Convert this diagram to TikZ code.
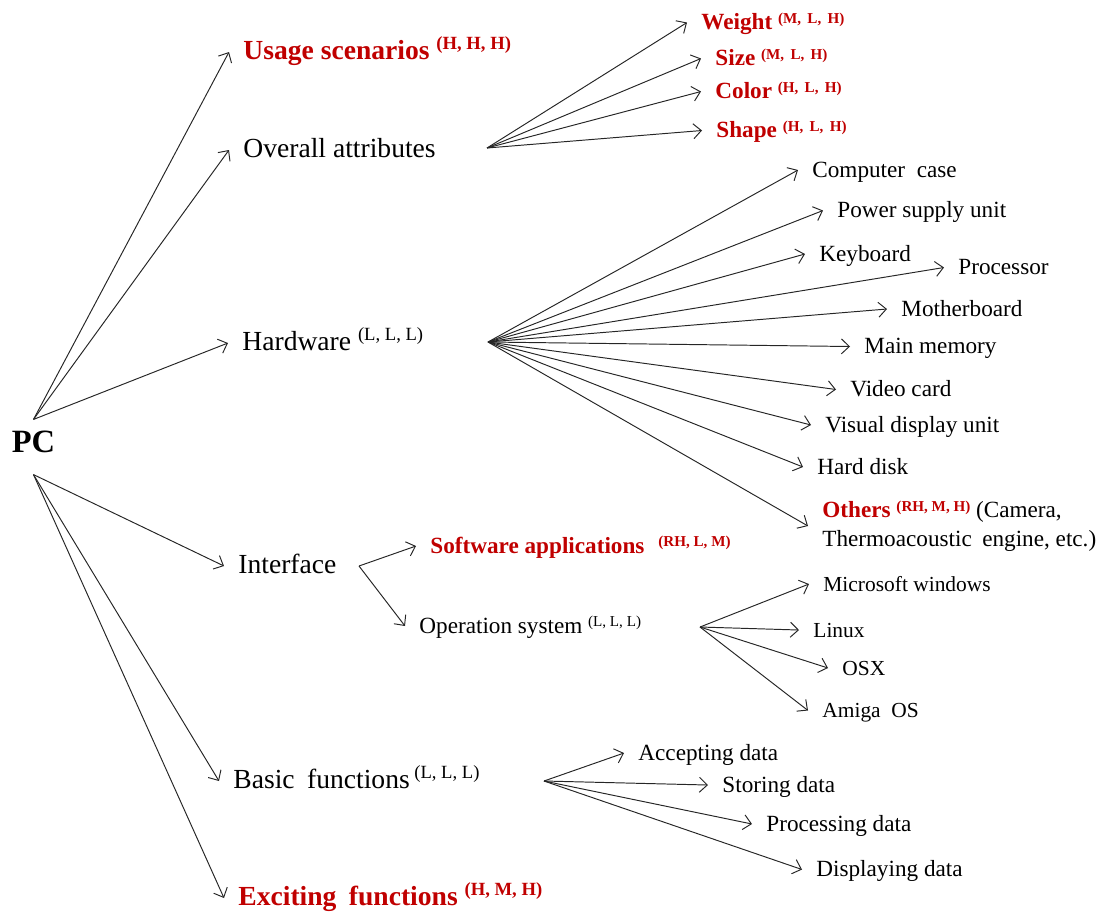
\documentclass[tikz,border=0pt]{standalone}
\usepackage{fontspec}
\setmainfont{Liberation Serif}
\usetikzlibrary{arrows.meta}
\definecolor{accent}{HTML}{C00000}
% ratings written as raised small text after a label
\newcommand\rtbig[1]{\raisebox{0.36em}{\fontsize{10.6}{10.6}\selectfont #1}}
\newcommand\rtsmall[1]{\raisebox{0.28em}{\fontsize{8.6}{8.6}\selectfont #1}}

\begin{document}
\begin{tikzpicture}[x=0.02cm,y=-0.02cm,
  arr/.style={draw=black!85, line width=0.55pt, -{Straight Barb[length=4.5pt,width=8.5pt]}},
  item/.style={anchor=west, inner xsep=8pt, inner ysep=1pt, text height=0.8em, text depth=0pt},
  big/.style={item, font=\fontsize{15.7}{18}\selectfont},
  bigred/.style={item, text=accent, font=\fontsize{15.7}{18}\selectfont\bfseries},
  small/.style={item, font=\fontsize{13.2}{16}\selectfont},
  smallred/.style={item, text=accent, font=\fontsize{13.2}{16}\selectfont\bfseries},
  tiny/.style={item, font=\fontsize{12.2}{15}\selectfont}
]
\path[use as bounding box] (0,0) rectangle (1108,914);

% root
\node[inner sep=0pt, text height=0.68em, text depth=0pt, minimum height=31pt,
      font=\fontsize{18.5}{22}\selectfont\bfseries] (pc) at (33.5,447) {PC};

% first level
\node[bigred] (us)  at (229,52)  {Usage scenarios \rtbig{(H, H, H)}};
\node[big]    (oa)  at (229,150) {Overall attributes};
\node[big]    (hw)  at (228,343) {Hardware \rtbig{(L, L, L)}};
\node[big]    (itf) at (224,566) {Interface};
\node[big]    (bf)  at (219,781) {Basic\hspace{0.2em} functions\,\rtbig{(L, L, L)}};
\node[bigred] (ex)  at (224,898) {Exciting\hspace{0.2em} functions \rtbig{(H, M, H)}};

% fan-out points
\coordinate (oafan) at (487,148);
\coordinate (hwfan) at (488,342);
\coordinate (iffan) at (359,566);
\coordinate (osfan) at (700,627);
\coordinate (bffan) at (544,781);

% overall attributes
\node[smallred] (wt)  at (687,22.5)  {Weight \rtsmall{(M,\, L,\, H)}};
\node[smallred] (sz)  at (701,58.5)  {Size \rtsmall{(M,\, L,\, H)}};
\node[smallred] (col) at (701,91.5)  {Color \rtsmall{(H,\, L,\, H)}};
\node[smallred] (sh)  at (702,130.5) {Shape \rtsmall{(H,\, L,\, H)}};

% hardware
\node[small] (cc)   at (798,170)   {Computer\hspace{0.25em} case};
\node[small] (psu)  at (823,210.5) {Power supply unit};
\node[small] (kb)   at (805,254)   {Keyboard};
\node[small] (proc) at (944,267.5) {Processor};
\node[small] (mb)   at (887,309)   {Motherboard};
\node[small] (mm)   at (850,346.5) {Main memory};
\node[small] (vc)   at (836,389.5) {Video card};
\node[small] (vdu)  at (811,425)   {Visual display unit};
\node[anchor=west, inner xsep=8pt, inner ysep=0pt, align=left,
      font=\fontsize{13.2}{16.4}\selectfont] (oth) at (808,526)
  {{\color{accent}\bfseries Others \rtsmall{(RH, M, H)}} (Camera,\\Thermoacoustic\hspace{0.2em} engine, etc.)};
\node[small] (hd)   at (803,467)   {Hard disk};

% interface
\node[smallred] (sw) at (416,546) {Software applications\hspace{0.6em}\rtsmall{(RH, L, M)}};
\node[small]    (os) at (405,626) {Operation system \rtsmall{(L, L, L)}};

% operating systems
\node[tiny] (win) at (809,584)   {Microsoft windows};
\node[tiny] (lin) at (799,630)   {Linux};
\node[tiny] (osx) at (828,668)   {OSX};
\node[tiny] (ami) at (808,710.5) {Amiga\hspace{0.25em} OS};

% basic functions
\node[small] (acc) at (624,753)   {Accepting data};
\node[small] (sto) at (708,785)   {Storing data};
\node[small] (pro) at (752,824)   {Processing data};
\node[small] (dis) at (802,869.5) {Displaying data};

% connectors
\foreach \t in {us,oa,hw} \draw[arr] (pc.north) -- (\t.west);
\foreach \t in {itf,bf,ex} \draw[arr] (pc.south) -- (\t.west);
\foreach \t in {wt,sz,col,sh} \draw[arr] (oafan) -- (\t.west);
\foreach \t in {cc,psu,kb,proc,mb,mm,vc,vdu,hd,oth} \draw[arr] (hwfan) -- (\t.west);
\foreach \t in {sw,os} \draw[arr] (iffan) -- (\t.west);
\foreach \t in {win,lin,osx,ami} \draw[arr] (osfan) -- (\t.west);
\foreach \t in {acc,sto,pro,dis} \draw[arr] (bffan) -- (\t.west);
\end{tikzpicture}
\end{document}
